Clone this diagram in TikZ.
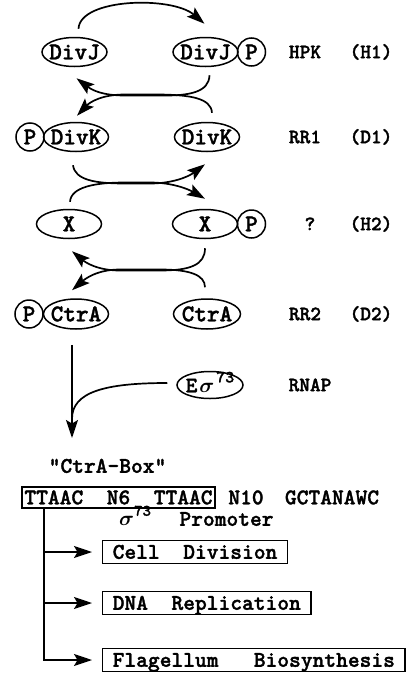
\documentclass[tikz,border=0pt]{standalone}
\usepackage{fontspec}
\IfFontExistsTF{lmmonolt10-bold.otf}
  {\newfontfamily\courfam{lmmonolt10-bold.otf}[FakeBold=1.5]}
  {\newfontfamily\courfam{lmmono10-regular.otf}[FakeBold=3]}
\usetikzlibrary{shapes.geometric,arrows.meta,calc}
\newcommand\courf{\courfam}
\newcommand\fNode{\courf\fontsize{24}{26}\selectfont}
\newcommand\fLab{\courf\fontsize{20.4}{22}\selectfont}
\newcommand\fTxt{\courf\fontsize{22.4}{24}\selectfont}
\newcommand\supr[2]{\raisebox{0.45em}{\courf\fontsize{#1}{#1}\selectfont #2}}
\newcommand\sigm{{\boldmath$\sigma$}}
\begin{document}
\begin{tikzpicture}[x=1pt,y=-1pt,
  ent/.style={ellipse, draw, line width=1.5pt, minimum width=65pt, minimum height=29pt,
              inner xsep=-14pt, inner ysep=-2pt, font=\fNode, text height=14.6pt, text depth=0pt},
  pc/.style={circle, draw, line width=1.5pt, minimum size=28pt, inner sep=-2pt,
             font=\fNode, text height=14.6pt, text depth=0pt},
  lab/.style={font=\fLab, inner sep=0pt, text height=12.4pt, text depth=0pt},
  txt/.style={font=\fTxt, inner sep=0pt, text height=13.6pt, text depth=0pt},
  bx/.style={draw, line width=1.4pt, font=\fTxt, inner xsep=10pt, inner ysep=0pt,
             minimum height=23pt, text height=13.6pt, text depth=0pt},
  ln/.style={line width=1.7pt},
  arr/.style={line width=1.7pt, -{Stealth[length=18pt,width=12pt,inset=3.5pt]}}
]
\useasboundingbox[fill=white] (0,0) rectangle (408,675);

% row 1
\node[ent] (djl) at (74.5,52) {DivJ};
\node[ent] (djr) at (205.5,52) {DivJ};
\node[pc] (pj) at (251.5,52) {P};
\node[lab] (hpk) at (305,52) {HPK};
\node[lab] (h1) at (371,52) {(H1)};
% row 2
\node[pc] (pk) at (30,137) {P};
\node[ent] (dkl) at (76,137) {DivK};
\node[ent] (dkr) at (207,137) {DivK};
\node[lab] (rr1) at (305,137) {RR1};
\node[lab] (d1) at (371,137) {(D1)};
% row 3
\node[ent] (xl) at (69,224) {X};
\node[ent] (xr) at (205,224) {X};
\node[pc] (px) at (251.5,224) {P};
\node[lab] (q) at (310,224) {?};
\node[lab] (h2) at (371,224) {(H2)};
% row 4
\node[pc] (pc4) at (29,314) {P};
\node[ent, minimum height=30pt] (cl) at (76,314) {CtrA};
\node[ent, minimum height=30pt, minimum width=67pt] (cr) at (207,314) {CtrA};
\node[lab] (rr2) at (305,314) {RR2};
\node[lab] (d2) at (371,314) {(D2)};
% RNA polymerase
\node[ent, minimum width=66pt, minimum height=27pt, font=\courf\fontsize{22}{24}\selectfont]
  (eso) at (210,385) {E\kern2pt\sigm\kern2pt\supr{17}{73}};
\node[lab] (rnap) at (310,385) {RNAP};

% promoter region
\node[txt] (cbox) at (107.5,466) {"CtrA-Box"};
\node[bx, inner xsep=2.5pt, minimum height=21pt] (ttaac) at (118.5,497.5) {TTAAC~~N6~~TTAAC};
\node[txt] (n10) at (246,497.5) {N10};
\node[txt] (gct) at (332,497.5) {GCTANAWC};
\node[txt, anchor=west] (sig) at (119,519) {\sigm\supr{16}{73}};
\node[txt] (prom) at (226.5,519) {Promoter};

% targets
\node[bx, anchor=west] (cell) at (102,552) {Cell~~Division};
\node[bx, anchor=west] (dna) at (102,603) {DNA~~Replication};
\node[bx, anchor=west] (flag) at (102,660) {Flagellum~~~Biosynthesis};

% top arc DivJ -> DivJ~P
\draw[arr] ($(djl.north)+(4,-8)$) .. controls (80,-2) and (172,-4) .. ($(djr.north)+(-1,-13)$);
% rows 1-2
\draw[arr] ($(djr.south)+(4,8)$) .. controls (209,92) and (190,96) .. (160,95.5) -- (125,95.5)
  .. controls (102,95.5) and (92,90) .. ($(djl.south)+(2,11)$);
\draw[arr] ($(dkr.north)+(5,-9)$) .. controls (211,98) and (190,95) .. (160,94.5) -- (125,94.5)
  .. controls (102,94.5) and (90,102) .. ($(dkl.north)+(1,-6)$);
% rows 2-3
\draw[arr] ($(dkl.south)+(-3,13)$) .. controls (75,180) and (95,183.5) .. (125,183.5) -- (150,183.5)
  .. controls (172,183.5) and (188,177) .. ($(dkr.south)+(-2,12)$);
\draw[arr] ($(xl.north)+(1,-7)$) .. controls (71,187) and (95,182.5) .. (125,182.5) -- (150,182.5)
  .. controls (172,182.5) and (188,189) .. ($(xr.north)+(0,-10)$);
% rows 3-4
\draw[arr] ($(xr.south)+(0,9)$) .. controls (205,265) and (190,270.5) .. (160,270.5) -- (120,270.5)
  .. controls (97,270.5) and (85,262) .. ($(xl.south)+(3,12)$);
\draw[arr] ($(cr.north)+(-2,-11)$) .. controls (205,275) and (190,269.5) .. (160,269.5) -- (120,269.5)
  .. controls (97,269.5) and (85,279) .. ($(cl.north)+(-4,-8)$);

% CtrA~P to CtrA-Box
\coordinate (vtop) at ($(cl.south)+(-4,15)$);
\coordinate (vj) at ($(vtop)+(0,74)$);
\draw[arr, shorten >=21pt] (vtop) -- (vtop |- cbox.north);
\draw[ln] ($(eso.west)+(-9,-2)$) .. controls (105,383) and (72,392) .. (vj);

% regulated functions
\coordinate (vx) at ($(ttaac.south west)+(23,0)$);
\draw[arr, shorten >=10pt] (vx) |- (flag.west);
\draw[arr, shorten >=10pt] (vx |- cell.west) -- (cell.west);
\draw[arr, shorten >=10pt] (vx |- dna.west) -- (dna.west);
\end{tikzpicture}
\end{document}
